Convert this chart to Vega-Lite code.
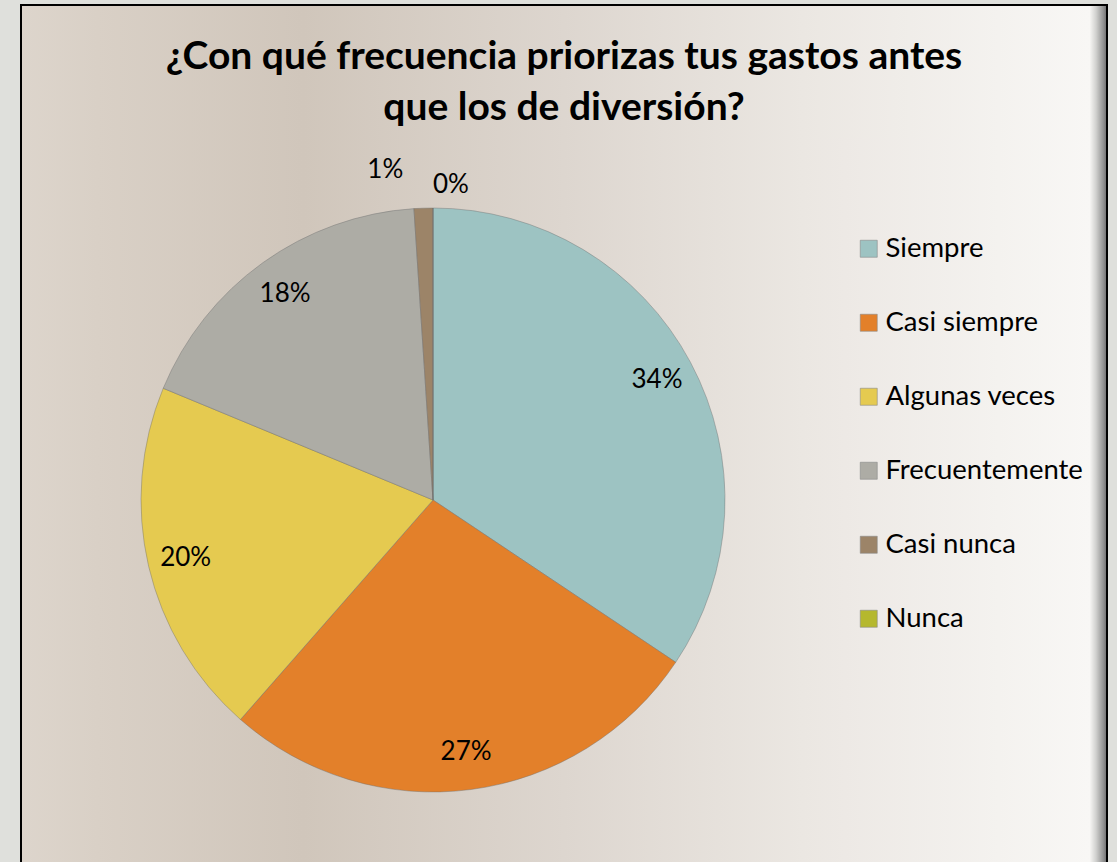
{
  "$schema": "https://vega.github.io/schema/vega-lite/v6.json",
  "background": "#dfe0dc",
  "padding": {"left": 20, "top": 4, "right": 10, "bottom": 0},
  "config": {"font": "Lato", "view": {"stroke": null}},
  "datasets": {
    "titulo": [{"texto": "¿Con qué frecuencia priorizas tus gastos antes\nque los de diversión?"}],
    "respuestas": [
      {"orden": 1, "respuesta": "Siempre", "proporcion": 0.3438},
      {"orden": 2, "respuesta": "Casi siempre", "proporcion": 0.2708},
      {"orden": 3, "respuesta": "Algunas veces", "proporcion": 0.1979},
      {"orden": 4, "respuesta": "Frecuentemente", "proporcion": 0.1771},
      {"orden": 5, "respuesta": "Casi nunca", "proporcion": 0.0104},
      {"orden": 6, "respuesta": "Nunca", "proporcion": 0}
    ],
    "vacio": []
  },
  "spacing": 0,
  "bounds": "flush",
  "vconcat": [
    {
      "width": 1086,
      "height": 133,
      "data": {"name": "titulo"},
      "view": {
        "fill": {"gradient": "linear", "x1": 0, "y1": 0, "x2": 1, "y2": 0, "stops": [
          {"offset": 0, "color": "#ddd5cc"},
          {"offset": 0.07, "color": "#d9d0c6"},
          {"offset": 0.26, "color": "#d0c6bb"},
          {"offset": 0.5, "color": "#ddd6cf"},
          {"offset": 0.72, "color": "#ebe7e2"},
          {"offset": 0.9, "color": "#f4f2ef"},
          {"offset": 0.984, "color": "#f8f7f5"},
          {"offset": 0.99, "color": "#d0d0ce"},
          {"offset": 0.997, "color": "#8e8e8e"},
          {"offset": 1, "color": "#6a6a6a"}
        ]},
        "stroke": "#000000",
        "strokeWidth": 2,
        "strokeDash": [1219, 1086, 133]
      },
      "mark": {"type": "text", "font": "Lato", "fontSize": 39, "fontWeight": "bold", "lineBreak": "\n", "lineHeight": 51, "baseline": "middle", "dy": -15, "color": "#000000"},
      "encoding": {"text": {"field": "texto", "type": "nominal"}}
    },
    {
      "spacing": 0,
      "bounds": "flush",
      "resolve": {"scale": {"color": "independent"}, "legend": {"color": "independent"}},
      "hconcat": [
        {
          "width": 824,
          "height": 724,
          "data": {"name": "respuestas"},
          "view": {
            "fill": {"gradient": "linear", "x1": 0, "y1": 0, "x2": 1, "y2": 0, "stops": [
              {"offset": 0, "color": "#ddd5cc"},
              {"offset": 0.092, "color": "#d9d0c6"},
              {"offset": 0.343, "color": "#d0c6bb"},
              {"offset": 0.659, "color": "#ddd6cf"},
              {"offset": 0.949, "color": "#ebe7e2"},
              {"offset": 1, "color": "#ede9e5"}
            ]},
            "stroke": "#000000",
            "strokeWidth": 2,
            "strokeDash": [0, 2372, 724]
          },
          "encoding": {
            "theta": {"field": "proporcion", "type": "quantitative", "stack": true},
            "order": {"field": "orden", "type": "quantitative"}
          },
          "layer": [
            {
              "mark": {"type": "arc", "outerRadius": 292, "stroke": "#6f6f6f", "strokeWidth": 0.7, "strokeOpacity": 0.6},
              "encoding": {
                "color": {
                  "field": "respuesta", "type": "nominal",
                  "scale": {
                    "domain": ["Siempre", "Casi siempre", "Algunas veces", "Frecuentemente", "Casi nunca", "Nunca"],
                    "range": ["#9dc3c2", "#e3802a", "#e5ca50", "#adaca5", "#9c8468", "#b5b82e"]
                  },
                  "legend": null
                }
              }
            },
            {
              "mark": {"type": "text", "radius": 254, "font": "Lato", "fontSize": 26, "baseline": "middle"},
              "encoding": {
                "detail": {"field": "respuesta", "type": "nominal"},
                "color": {"value": "#000000"},
                "text": {"condition": {"test": "datum.proporcion >= 0.05", "field": "proporcion", "type": "quantitative", "format": ".0%"}, "value": ""}
              }
            },
            {
              "mark": {"type": "text", "radius": 330, "font": "Lato", "fontSize": 26, "baseline": "middle", "align": "right", "dx": -19},
              "encoding": {
                "detail": {"field": "respuesta", "type": "nominal"},
                "color": {"value": "#000000"},
                "text": {"condition": {"test": "datum.respuesta === 'Casi nunca'", "field": "proporcion", "type": "quantitative", "format": ".0%"}, "value": ""}
              }
            },
            {
              "mark": {"type": "text", "radius": 315, "font": "Lato", "fontSize": 26, "baseline": "middle", "align": "left"},
              "encoding": {
                "detail": {"field": "respuesta", "type": "nominal"},
                "color": {"value": "#000000"},
                "text": {"condition": {"test": "datum.respuesta === 'Nunca'", "field": "proporcion", "type": "quantitative", "format": ".0%"}, "value": ""}
              }
            }
          ]
        },
        {
          "width": 262,
          "height": 724,
          "data": {"name": "vacio"},
          "view": {
            "fill": {"gradient": "linear", "x1": 0, "y1": 0, "x2": 1, "y2": 0, "stops": [
              {"offset": 0, "color": "#ede9e5"},
              {"offset": 0.586, "color": "#f4f2ef"},
              {"offset": 0.934, "color": "#f8f7f5"},
              {"offset": 0.9585, "color": "#d0d0ce"},
              {"offset": 0.9876, "color": "#8e8e8e"},
              {"offset": 1, "color": "#6a6a6a"}
            ]},
            "stroke": "#000000",
            "strokeWidth": 2,
            "strokeDash": [0, 262, 724, 986]
          },
          "mark": {"type": "square", "opacity": 1},
          "encoding": {
            "color": {
              "field": "respuesta", "type": "nominal",
              "scale": {
                "domain": ["Siempre", "Casi siempre", "Algunas veces", "Frecuentemente", "Casi nunca", "Nunca"],
                "range": ["#9dc3c2", "#e3802a", "#e5ca50", "#adaca5", "#9c8468", "#b5b82e"]
              },
              "legend": {
                "orient": "none", "legendX": 10, "legendY": 97, "title": null,
                "symbolType": "square", "symbolSize": 289, "symbolStrokeWidth": 0.6, "symbolStrokeColor": "#8a8a8a", "symbolOpacity": 1,
                "labelFont": "Lato", "labelFontSize": 27.5, "labelColor": "#000000", "labelOffset": 3,
                "rowPadding": 45, "padding": 0, "labelLimit": 300
              }
            }
          }
        }
      ]
    }
  ]
}
